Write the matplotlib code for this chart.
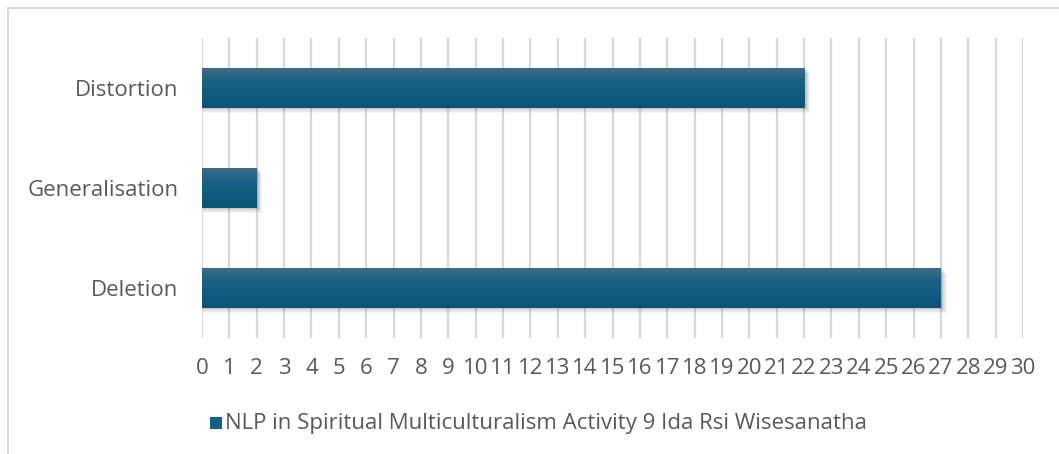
import numpy as np
import matplotlib
matplotlib.use("Agg")
import matplotlib.pyplot as plt
from matplotlib.patches import Rectangle
from matplotlib.colors import LinearSegmentedColormap

categories = ["Deletion", "Generalisation", "Distortion"]
values = [27, 2, 22]
series_name = "NLP in Spiritual Multiculturalism Activity 9 Ida Rsi Wisesanatha"
xticks = list(range(0, 31))

plt.rcParams['font.family'] = ['Open Sans', 'DejaVu Sans']

W, H = 1059, 454
fig = plt.figure(figsize=(W / 100, H / 100), dpi=100)
ax = fig.add_axes([202 / W, 1 - 338 / H, (1023 - 202) / W, 300 / H])

# figure frame
fig.patches.append(Rectangle((8 / W, -0.1), 1.2, (H - 8) / H + 0.1, transform=fig.transFigure,
                             fill=False, edgecolor="#d9d9d9", lw=1.5))

ax.set_xlim(0, 30)
ax.set_ylim(-0.5, 2.5)
for s in ax.spines.values():
    s.set_visible(False)
ax.set_xticks(xticks)
ax.set_xticklabels([str(t) for t in xticks])
ax.set_yticks(range(len(categories)))
ax.set_yticklabels(categories)
ax.tick_params(axis='both', length=0, labelsize=16, colors="#595959")
ax.tick_params(axis='x', pad=14.5)
ax.tick_params(axis='y', pad=17)
ax.xaxis.grid(True, color="#d9d9d9", lw=1.6)
ax.set_axisbelow(True)

cmap = LinearSegmentedColormap.from_list("g", ["#3f6b88", "#1a6184", "#0e5c80", "#0b5377"])
grad = np.linspace(0, 1, 256).reshape(-1, 1)
h = 0.4
for i, v in enumerate(values):
    # soft shadow
    for k, a in enumerate([0.04, 0.05, 0.06, 0.08]):
        off = 0.012 * (4 - k)
        sh = Rectangle((0.03, i - h / 2 - off), v + 0.02 + 0.04 * (4 - k), h, facecolor="#000000",
                       alpha=a, lw=0, zorder=2)
        ax.add_patch(sh)
    rect = Rectangle((0, i - h / 2), v, h, facecolor="none", lw=0, zorder=3)
    ax.add_patch(rect)
    im = ax.imshow(grad, cmap=cmap, aspect='auto', extent=(0, v, i - h / 2, i + h / 2),
                   origin='upper', zorder=3, interpolation='bilinear')
    im.set_clip_path(rect)

ax.set_xlim(0, 30)
ax.set_ylim(-0.5, 2.5)

# legend
lx, ly = 210 / W, 1 - 423 / H
fig.patches.append(Rectangle((lx, ly - 6 / H), 12 / W, 12 / H, transform=fig.transFigure,
                             facecolor="#175f82", edgecolor="none"))
fig.text(lx + 15 / W, ly, series_name, fontsize=16, color="#595959", va='center', ha='left')

fig.savefig("out.png", dpi=100)
